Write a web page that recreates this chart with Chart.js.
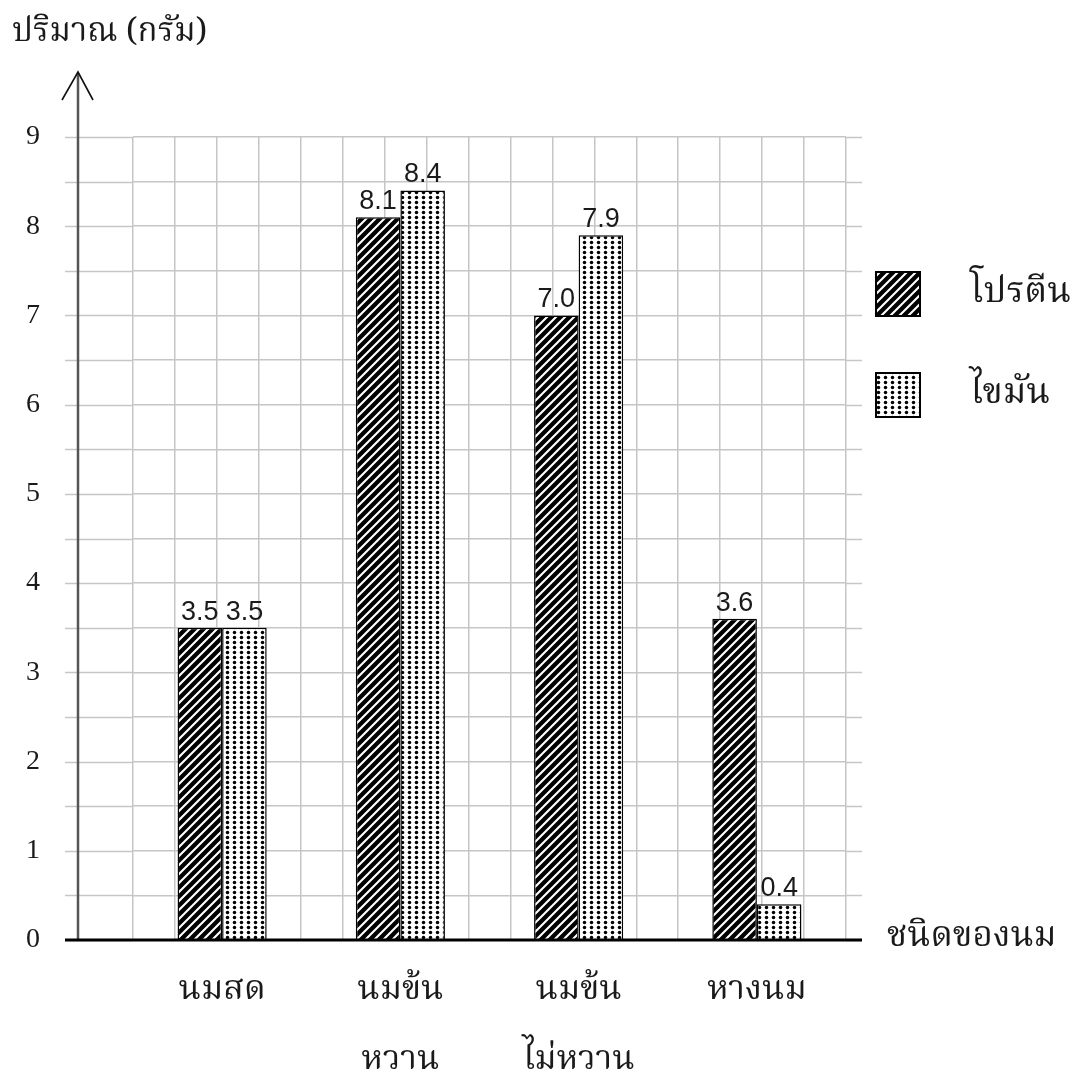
<!DOCTYPE html>
<html>
<head>
<meta charset="utf-8">
<script src="https://cdn.jsdelivr.net/npm/chart.js@4.4.1/dist/chart.umd.min.js"></script>
<style>
  html, body { margin: 0; padding: 0; background: #fff; }
</style>
</head>
<body>
<canvas id="milkChart" width="1081" height="1073"></canvas>
<script>
// data
const categories = ['นมสด', ['นมข้น', 'หวาน'], ['นมข้น', 'ไม่หวาน'], 'หางนม'];
const proteinValues = [3.5, 8.1, 7.0, 3.6];
const fatValues = [3.5, 8.4, 7.9, 0.4];
const seriesNames = ['โปรตีน', 'ไขมัน'];
const yTitle = 'ปริมาณ (กรัม)';
const xTitle = 'ชนิดของนม';

const thaiFont = "'Noto Serif Thai', 'Noto Sans Thai', 'TH Sarabun New', 'Loma', 'Garuda', serif";
const textColor = '#1a1a1a';
const gridColor = '#c6c6c6';

const canvas = document.getElementById('milkChart');
const ctx = canvas.getContext('2d');

// hatched fill "///" for protein
function makeHatch() {
    const c = document.createElement('canvas');
    c.width = 9; c.height = 9;
    const g = c.getContext('2d');
    g.fillStyle = '#000';
    g.fillRect(0, 0, 9, 9);
    g.strokeStyle = '#fff';
    g.lineWidth = 2.1;
    g.beginPath();
    g.moveTo(-2, 11); g.lineTo(11, -2);
    g.moveTo(-2, 2); g.lineTo(2, -2);
    g.moveTo(7, 11); g.lineTo(11, 7);
    g.stroke();
    return ctx.createPattern(c, 'repeat');
}

// dotted fill for fat
function makeDots() {
    const c = document.createElement('canvas');
    c.width = 7; c.height = 5;
    const g = c.getContext('2d');
    g.fillStyle = '#fff';
    g.fillRect(0, 0, 7, 5);
    g.fillStyle = '#000';
    g.beginPath();
    g.arc(3.5, 2.5, 1.75, 0, Math.PI * 2);
    g.fill();
    return ctx.createPattern(c, 'repeat');
}

const hatch = makeHatch();
const dots = makeDots();

// grid/axis extras: extend horizontal grid lines past the plot, y axis with arrow, thick x axis
const axisDecor = {
    id: 'axisDecor',
    beforeDatasetsDraw(chart) {
        const { ctx, chartArea, scales } = chart;
        ctx.save();
        ctx.strokeStyle = gridColor;
        ctx.lineWidth = 1.5;
        scales.y.ticks.forEach(t => {
            const py = Math.round(scales.y.getPixelForValue(t.value)) + 0.5;
            ctx.beginPath();
            ctx.moveTo(chartArea.left - 68, py);
            ctx.lineTo(chartArea.left, py);
            ctx.moveTo(chartArea.right, py);
            ctx.lineTo(chartArea.right + 16, py);
            ctx.stroke();
        });
        ctx.restore();
    },
    afterDatasetsDraw(chart) {
        const { ctx, chartArea, scales } = chart;
        const ax = chartArea.left - 55;
        const y0 = scales.y.getPixelForValue(0);
        ctx.save();
        // y axis
        ctx.strokeStyle = '#555';
        ctx.lineWidth = 2.5;
        ctx.beginPath();
        ctx.moveTo(ax, y0);
        ctx.lineTo(ax, chartArea.top - 64);
        ctx.stroke();
        ctx.strokeStyle = '#111';
        ctx.lineWidth = 1.6;
        ctx.beginPath();
        ctx.moveTo(ax - 16, chartArea.top - 37);
        ctx.lineTo(ax, chartArea.top - 65);
        ctx.lineTo(ax + 15, chartArea.top - 37);
        ctx.stroke();
        // x axis
        ctx.strokeStyle = '#000';
        ctx.lineWidth = 3;
        ctx.beginPath();
        ctx.moveTo(chartArea.left - 68, y0);
        ctx.lineTo(chartArea.right + 16, y0);
        ctx.stroke();

        // value labels on top of bars
        ctx.font = "27px 'Liberation Sans', Arial, sans-serif";
        ctx.fillStyle = textColor;
        ctx.textAlign = 'center';
        ctx.textBaseline = 'bottom';
        chart.data.datasets.forEach((ds, i) => {
            chart.getDatasetMeta(i).data.forEach((bar, j) => {
                ctx.fillText(ds.data[j].toFixed(1), bar.x, bar.y - 2);
            });
        });
        ctx.restore();
    },
    afterDraw(chart) {
        const { ctx, chartArea, scales } = chart;
        ctx.save();
        ctx.fillStyle = textColor;
        ctx.textBaseline = 'middle';
        ctx.textAlign = 'left';
        ctx.font = '33px ' + thaiFont;
        ctx.fillText(yTitle, 12, 36);
        ctx.font = '35px ' + thaiFont;
        ctx.fillText(xTitle, chartArea.right + 41, scales.y.getPixelForValue(0));

        // legend
        const fills = [hatch, dots];
        const boxTops = [272, 373];
        ctx.font = '36px ' + thaiFont;
        chart.data.datasets.forEach((ds, i) => {
            const bx = chartArea.right + 30, by = boxTops[i];
            ctx.fillStyle = fills[i];
            ctx.fillRect(bx, by, 44, 44);
            ctx.strokeStyle = '#000';
            ctx.lineWidth = 2;
            ctx.strokeRect(bx, by, 44, 44);
            ctx.fillStyle = textColor;
            ctx.fillText(ds.label, bx + 94, by + 24);
        });
        ctx.restore();
    }
};

new Chart(ctx, {
    type: 'bar',
    data: {
        labels: categories,
        datasets: [
            {
                label: seriesNames[0],
                data: proteinValues,
                backgroundColor: hatch,
                borderColor: '#000',
                borderWidth: 1.5,
                borderSkipped: 'bottom',
                categoryPercentage: 0.5,
                barPercentage: 1.0
            },
            {
                label: seriesNames[1],
                data: fatValues,
                backgroundColor: dots,
                borderColor: '#000',
                borderWidth: 1.5,
                borderSkipped: 'bottom',
                categoryPercentage: 0.5,
                barPercentage: 1.0
            }
        ]
    },
    options: {
        responsive: false,
        animation: false,
        layout: { padding: { left: 0, top: 137, right: 235, bottom: 0 } },
        plugins: {
            legend: { display: false },
            tooltip: { enabled: false }
        },
        scales: {
            x: {
                type: 'category',
                offset: true,
                grid: { display: false },
                border: { display: false },
                ticks: {
                    color: textColor,
                    font: { family: thaiFont, size: 34, lineHeight: 2.06 },
                    padding: 10,
                    maxRotation: 0,
                    autoSkip: false
                },
                afterFit(scale) { scale.height = 133; }
            },
            // quarter-category grid lines
            xGrid: {
                type: 'linear',
                position: 'bottom',
                min: 0,
                max: 16,
                ticks: { display: false, stepSize: 1 },
                grid: { color: gridColor, lineWidth: 1.5, drawTicks: false },
                border: { display: false },
                afterFit(scale) { scale.height = 0; }
            },
            y: {
                min: 0,
                max: 9,
                grid: { color: gridColor, lineWidth: 1.5, drawTicks: false },
                border: { display: false },
                ticks: {
                    stepSize: 0.5,
                    color: textColor,
                    padding: 93,
                    font: { family: "'Liberation Serif', 'Times New Roman', serif", size: 28 },
                    callback: (v) => Number.isInteger(v) ? String(v) : ''
                },
                afterFit(scale) { scale.width = 133; }
            }
        }
    },
    plugins: [axisDecor]
});
</script>
</body>
</html>
